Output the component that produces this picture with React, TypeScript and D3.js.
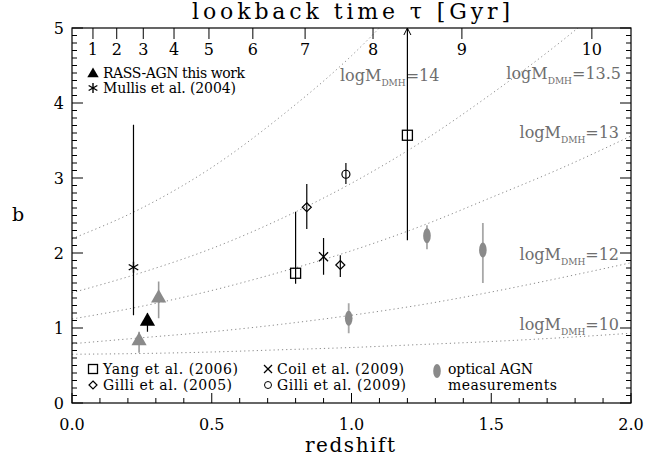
import React from "react";
import * as d3 from "d3";

// ---------- data ----------
const curveZ = [0, 0.25, 0.5, 0.75, 1.0, 1.25, 1.5, 1.75, 2.0];
const bM10 = [0.65, 0.66, 0.68, 0.71, 0.74, 0.78, 0.82, 0.87, 0.93];
const bM12 = [0.79, 0.87, 0.95, 1.05, 1.17, 1.31, 1.48, 1.67, 1.87];
const bM13 = [1.12, 1.29, 1.5, 1.75, 2.03, 2.36, 2.74, 3.13, 3.56];
const bM135 = [1.47, 1.74, 2.06, 2.46, 2.93, 3.48, 4.12, 4.82, 5.6];
const bM14 = [2.19, 2.6, 3.14, 3.83, 4.63, 5.6];
const curveLabels = ["14", "13.5", "13", "12", "10"];

const lookbackGyr = [1, 2, 3, 4, 5, 6, 7, 8, 9, 10];
const lookbackZ = [0.075, 0.16, 0.255, 0.365, 0.49, 0.647, 0.834, 1.077, 1.395, 1.86];

const rassZ = [0.27];
const rassB = [1.09];
const rassLo = [0.95];
const rassHi = [1.2];

const rassSubZ = [0.24, 0.31];
const rassSubB = [0.83, 1.4];
const rassSubLo = [0.67, 1.13];
const rassSubHi = [0.95, 1.62];

const mullisZ = [0.22];
const mullisB = [1.81];
const mullisLo = [1.17];
const mullisHi = [3.71];

const yangZ = [0.8, 1.2];
const yangB = [1.73, 3.57];
const yangLo = [1.59, 2.17];
const yangHi = [2.55, 5.0];

const gilli05Z = [0.84, 0.96];
const gilli05B = [2.61, 1.84];
const gilli05Lo = [2.32, 1.68];
const gilli05Hi = [2.92, 1.97];

const coilZ = [0.9];
const coilB = [1.95];
const coilLo = [1.71];
const coilHi = [2.2];

const gilli09Z = [0.98];
const gilli09B = [3.05];
const gilli09Lo = [2.92];
const gilli09Hi = [3.2];

const opticalZ = [0.99, 1.27, 1.47];
const opticalB = [1.13, 2.23, 2.04];
const opticalLo = [0.93, 2.05, 1.6];
const opticalHi = [1.33, 2.37, 2.4];

const xTicks = [0, 0.5, 1.0, 1.5, 2.0];
const yTicks = [0, 1, 2, 3, 4, 5];

// ---------- layout ----------
const W = 670;
const H = 461;
const L = 72;
const R = 631;
const T = 28;
const B = 403;
const FONT = "DejaVu Serif";
const GRAY = "#8a8a8a";
const TXTGRAY = "#6e6e6e";

export default function App() {
  const x = d3.scaleLinear().domain([0, 2]).range([L, R]);
  const y = d3.scaleLinear().domain([0, 5]).range([B, T]);
  const line = d3
    .line<[number, number]>()
    .x((d) => x(d[0]))
    .y((d) => y(d[1]))
    .curve(d3.curveMonotoneX);

  const curves = [bM14, bM135, bM13, bM12, bM10].map((bs) =>
    bs.map((b, i) => [curveZ[i], b] as [number, number])
  );

  const xMinor = d3.range(0, 2.0001, 0.1);
  const yMinor = d3.range(0, 5.0001, 0.1);

  const errBar = (zs: number[], lo: number[], hi: number[], color: string, key: string, w = 1.2) =>
    zs.map((z, i) => (
      <line key={key + i} x1={x(z)} x2={x(z)} y1={y(lo[i])} y2={y(hi[i])} stroke={color} strokeWidth={w} />
    ));

  const tri = d3.symbol(d3.symbolTriangle, 100)()!;
  const ast = (cx: number, cy: number, r: number, color: string, key: string) => (
    <g key={key} stroke={color} strokeWidth={1.4}>
      {[0, 60, 120].map((a) => {
        const rad = (a * Math.PI) / 180 + Math.PI / 2;
        return (
          <line key={a} x1={cx - r * Math.cos(rad)} y1={cy - r * Math.sin(rad)} x2={cx + r * Math.cos(rad)} y2={cy + r * Math.sin(rad)} />
        );
      })}
    </g>
  );
  const cross = (cx: number, cy: number, r: number, key: string) => (
    <g key={key} stroke="#000" strokeWidth={1.3}>
      <line x1={cx - r} y1={cy - r} x2={cx + r} y2={cy + r} />
      <line x1={cx - r} y1={cy + r} x2={cx + r} y2={cy - r} />
    </g>
  );
  const square = (cx: number, cy: number, s: number, key: string) => (
    <rect key={key} x={cx - s / 2} y={cy - s / 2} width={s} height={s} fill="none" stroke="#000" strokeWidth={1.3} />
  );
  const diamond = (cx: number, cy: number, s: number, key: string) => (
    <path key={key} d={`M${cx},${cy - s}L${cx + s},${cy}L${cx},${cy + s}L${cx - s},${cy}Z`} fill="none" stroke="#000" strokeWidth={1.2} />
  );

  const labelPos = [
    { x: 340, y: 81, anchor: "start" },
    { x: 621, y: 79, anchor: "end" },
    { x: 619, y: 138, anchor: "end" },
    { x: 619, y: 260, anchor: "end" },
    { x: 619, y: 330, anchor: "end" },
  ];

  return (
    <svg width={W} height={H} style={{ position: "absolute", left: 0, top: 0, background: "#fff" }} fontFamily={FONT}>
      <defs>
        <clipPath id="plot">
          <rect x={L} y={T} width={R - L} height={B - T} />
        </clipPath>
      </defs>

      {/* title */}
      <text x={351} y={19} fontSize={22} textAnchor="middle" textLength={318} lengthAdjust="spacing">
        lookback time τ [Gyr]
      </text>
      <text x={350} y={452} fontSize={20} textAnchor="middle" textLength={90} lengthAdjust="spacing">
        redshift
      </text>
      <text x={18} y={221} fontSize={19} textAnchor="middle">
        b
      </text>

      {/* dotted curves */}
      <g clipPath="url(#plot)">
        {curves.map((c, i) => (
          <path key={i} d={line(c)!} fill="none" stroke={GRAY} strokeWidth={1} strokeDasharray="1.2,3" />
        ))}
      </g>
      {curveLabels.map((lab, i) => (
        <text key={lab} x={labelPos[i].x} y={labelPos[i].y} fontSize={16} fill={TXTGRAY} textAnchor={labelPos[i].anchor as any}>
          logM<tspan fontSize={9} dy={5}>DMH</tspan>
          <tspan dy={-5}>{"=" + lab}</tspan>
        </text>
      ))}

      {/* frame */}
      <rect x={L} y={T} width={R - L} height={B - T} fill="none" stroke="#000" strokeWidth={1.2} />

      {/* bottom ticks */}
      {xMinor.map((v, i) => {
        const major = i % 5 === 0;
        return <line key={"xm" + i} x1={x(v)} x2={x(v)} y1={B} y2={B - (major ? 10 : 5)} stroke="#000" strokeWidth={1} />;
      })}
      {xTicks.map((v) => (
        <text key={"xt" + v} x={x(v)} y={430} fontSize={16} textAnchor="middle">
          {d3.format(".1f")(v)}
        </text>
      ))}

      {/* left/right ticks */}
      {yMinor.map((v, i) => {
        const major = i % 10 === 0;
        const len = major ? 11 : 5;
        return (
          <g key={"ym" + i}>
            <line x1={L} x2={L + len} y1={y(v)} y2={y(v)} stroke="#000" strokeWidth={1} />
            <line x1={R} x2={R - len} y1={y(v)} y2={y(v)} stroke="#000" strokeWidth={1} />
          </g>
        );
      })}
      {yTicks.map((v) => (
        <text key={"yt" + v} x={64} y={y(v) + 6} fontSize={16} textAnchor="end">
          {v}
        </text>
      ))}

      {/* top lookback ticks */}
      {lookbackZ.map((z, i) => (
        <g key={"lb" + i}>
          <line x1={x(z)} x2={x(z)} y1={T} y2={T + 11} stroke="#000" strokeWidth={1} />
          <text x={x(z)} y={55} fontSize={16} textAnchor="middle">
            {lookbackGyr[i]}
          </text>
        </g>
      ))}

      {/* error bars */}
      {errBar(mullisZ, mullisLo, mullisHi, "#000", "me")}
      {errBar(rassSubZ, rassSubLo, rassSubHi, "#9a9a9a", "rse", 1.6)}
      {errBar(rassZ, rassLo, rassHi, "#000", "re")}
      {errBar(yangZ, yangLo, yangHi, "#000", "ye")}
      {errBar(gilli05Z, gilli05Lo, gilli05Hi, "#000", "ge")}
      {errBar(coilZ, coilLo, coilHi, "#000", "ce")}
      {errBar(gilli09Z, gilli09Lo, gilli09Hi, "#000", "g9e")}
      {errBar(opticalZ, opticalLo, opticalHi, "#a8a8a8", "oe", 1.8)}
      {/* upper-limit arrow head */}
      <path d={`M${x(yangZ[1]) - 3.5},${T + 7}L${x(yangZ[1])},${T}L${x(yangZ[1]) + 3.5},${T + 7}`} fill="none" stroke="#000" strokeWidth={1} />

      {/* markers */}
      {rassSubZ.map((z, i) => (
        <path key={"rs" + i} d={tri} transform={`translate(${x(z)},${y(rassSubB[i])})`} fill={GRAY} />
      ))}
      {rassZ.map((z, i) => (
        <path key={"r" + i} d={tri} transform={`translate(${x(z)},${y(rassB[i])})`} fill="#000" />
      ))}
      {mullisZ.map((z, i) => ast(x(z), y(mullisB[i]), 5.5, "#000", "m" + i))}
      {yangZ.map((z, i) => square(x(z), y(yangB[i]), 10, "y" + i))}
      {gilli05Z.map((z, i) => diamond(x(z), y(gilli05B[i]), 4.5, "g" + i))}
      {coilZ.map((z, i) => cross(x(z), y(coilB[i]), 4.5, "c" + i))}
      {gilli09Z.map((z, i) => (
        <circle key={"g9" + i} cx={x(z)} cy={y(gilli09B[i])} r={4} fill="none" stroke="#000" strokeWidth={1.2} />
      ))}
      {opticalZ.map((z, i) => (
        <ellipse key={"o" + i} cx={x(z)} cy={y(opticalB[i])} rx={3.8} ry={7.5} fill={GRAY} />
      ))}

      {/* top-left legend */}
      <path d={tri} transform="translate(93,74) scale(0.75)" fill="#000" />
      <text x={103} y={78} fontSize={14} textLength={142} lengthAdjust="spacing">RASS-AGN this work</text>
      {ast(93, 88, 5, "#000", "lgm")}
      <text x={103} y={93} fontSize={14} textLength={133} lengthAdjust="spacing">Mullis et al. (2004)</text>

      {/* bottom legend */}
      {square(93, 369, 9, "lgy")}
      <text x={103} y={374} fontSize={14} textLength={135} lengthAdjust="spacing">Yang et al. (2006)</text>
      {diamond(93, 385, 4, "lgg")}
      <text x={103} y={390} fontSize={14} textLength={129} lengthAdjust="spacing">Gilli et al. (2005)</text>
      {cross(268, 369, 4, "lgc")}
      <text x={277} y={374} fontSize={14} textLength={127} lengthAdjust="spacing">Coil et al. (2009)</text>
      <circle cx={268} cy={385} r={3.5} fill="none" stroke="#000" strokeWidth={1} />
      <text x={277} y={390} fontSize={14} textLength={129} lengthAdjust="spacing">Gilli et al. (2009)</text>
      <ellipse cx={437} cy={371} rx={3.8} ry={7} fill={GRAY} />
      <text x={448} y={374} fontSize={14} textLength={85} lengthAdjust="spacing">optical AGN</text>
      <text x={448} y={390} fontSize={14} textLength={109} lengthAdjust="spacing">measurements</text>
    </svg>
  );
}
